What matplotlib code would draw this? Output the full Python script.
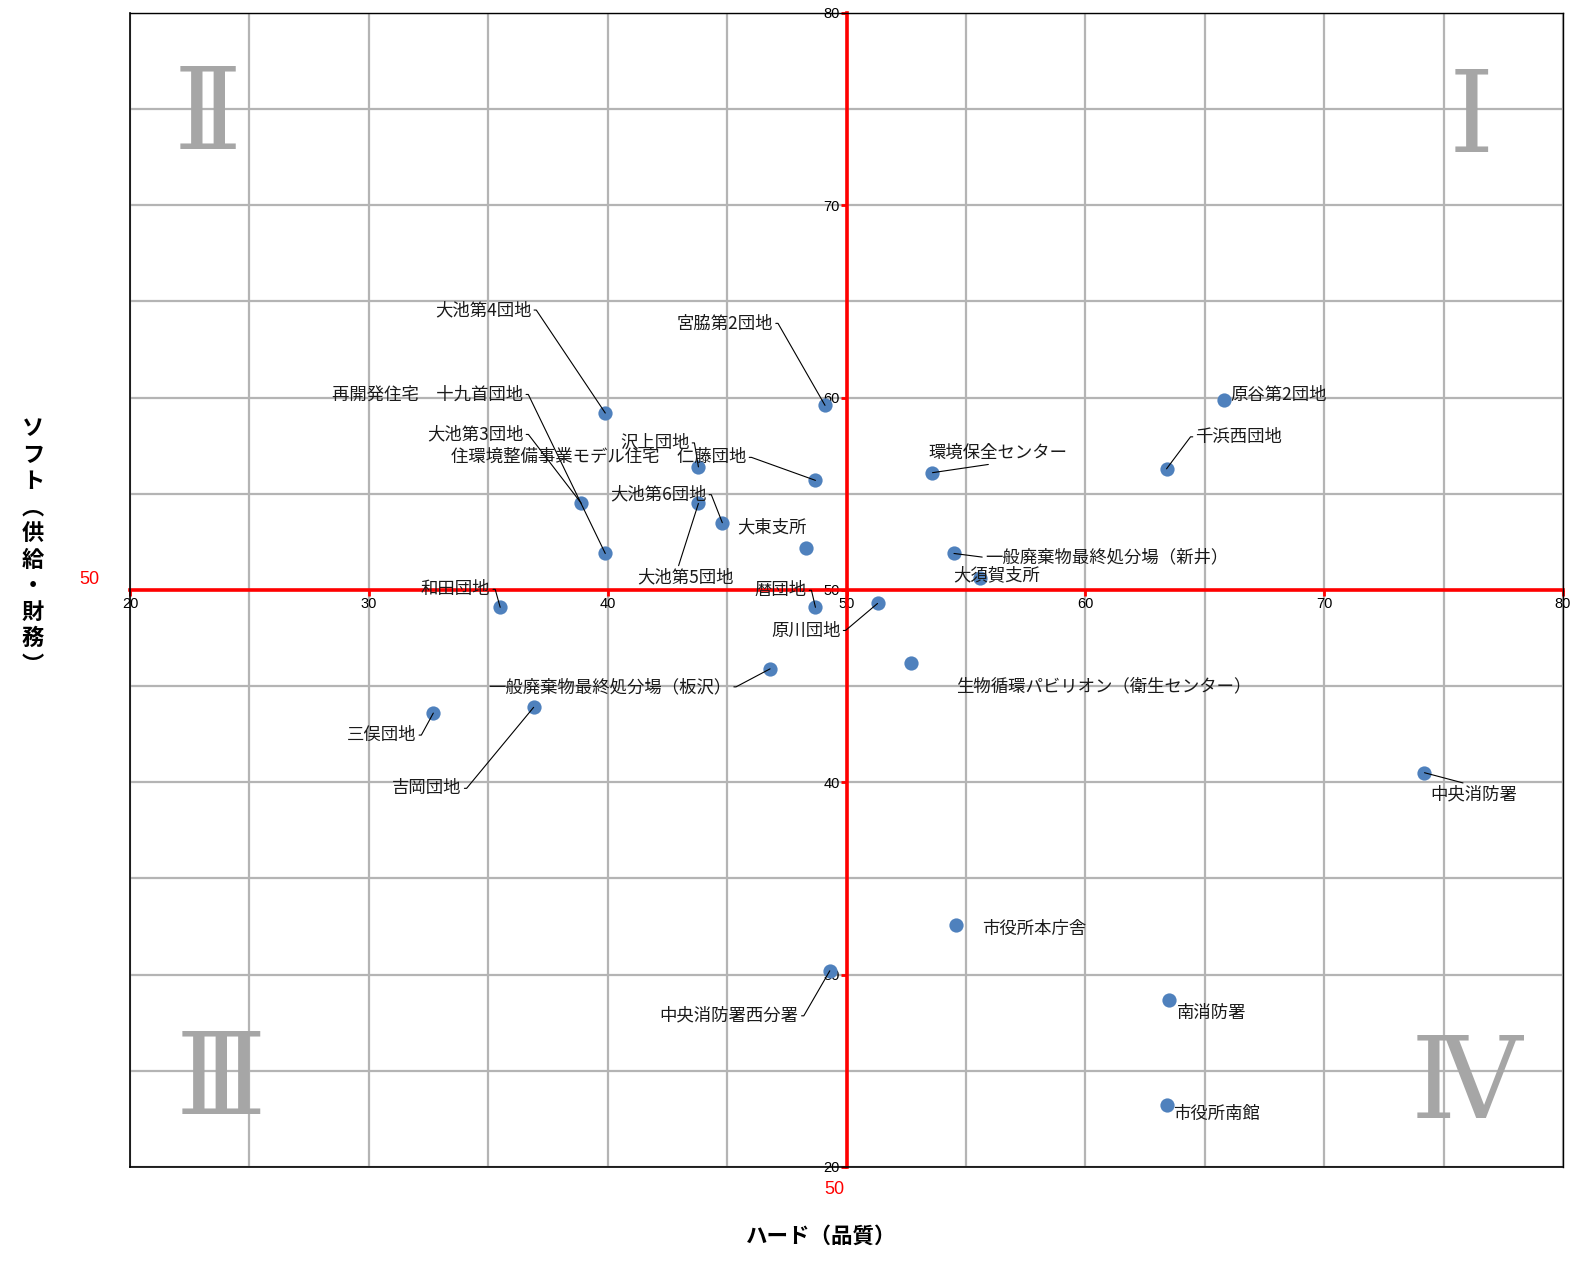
import matplotlib
matplotlib.use('Agg')
import matplotlib.pyplot as plt
from matplotlib.ticker import MultipleLocator

plt.rcParams['font.family'] = ['Noto Sans CJK JP', 'DejaVu Sans']

# ---------------- data ----------------
names = [
    "大池第4団地", "宮脇第2団地", "再開発住宅　十九首団地", "大池第3団地", "沢上団地",
    "住環境整備事業モデル住宅　仁藤団地", "大池第6団地", "大池第5団地", "大東支所", "和田団地",
    "暦団地", "原川団地", "環境保全センター", "一般廃棄物最終処分場（新井）", "大須賀支所",
    "原谷第2団地", "千浜西団地", "生物循環パビリオン（衛生センター）", "一般廃棄物最終処分場（板沢）", "三俣団地",
    "吉岡団地", "中央消防署", "市役所本庁舎", "中央消防署西分署", "南消防署",
    "市役所南館",
]
hard = [39.9, 49.1, 39.9, 38.9, 43.8,
        48.7, 44.8, 43.8, 48.3, 35.5,
        48.7, 51.3, 53.6, 54.5, 55.6,
        65.8, 63.4, 52.7, 46.8, 32.7,
        36.9, 74.2, 54.6, 49.3, 63.5,
        63.4]
soft = [59.2, 59.6, 51.9, 54.5, 56.4,
        55.7, 53.5, 54.5, 52.2, 49.1,
        49.1, 49.3, 56.1, 51.9, 50.6,
        59.9, 56.3, 46.2, 45.9, 43.6,
        43.9, 40.5, 32.6, 30.2, 28.7,
        23.2]
x_ticks = [20, 30, 40, 50, 60, 70, 80]
y_ticks = [20, 30, 40, 50, 60, 70, 80]
center_x = 50
center_y = 50
quadrants = ["Ⅰ", "Ⅱ", "Ⅲ", "Ⅳ"]

# ---------------- layout (label offsets in px, y up) ----------------
# (dx, dy, ha, leader)  leader: None / 'armR' / 'armL' / (relx, rely)
layout = [
    (-74, 103, 'right', 'armR'),
    (-52, 82, 'right', 'armR'),
    (-82, 159, 'right', 'armR'),
    (-58, 69, 'right', 'armR'),
    (-9, 24, 'right', 'armR'),
    (-69, 23, 'right', 'armR'),
    (-16, 28, 'right', 'armR'),
    (-13, -74, 'center', (0.42, 1.0)),
    (-69, 20, 'left', None),
    (-10, 18, 'right', 'armR'),
    (-9, 17, 'right', 'armR'),
    (-37, -27, 'right', 'armR'),
    (65, 20, 'center', (0.57, 0.0)),
    (31, -4, 'left', (0.0, 0.5)),
    (16, 3, 'center', None),
    (6, 5, 'left', None),
    (29, 32, 'left', 'armL'),
    (45, -23, 'left', None),
    (-39, -18, 'right', 'armR'),
    (-17, -22, 'right', 'armR'),
    (-72, -81, 'right', 'armR'),
    (49, -22, 'center', (0.5, 1.0)),
    (26, -4, 'left', None),
    (-31, -45, 'right', 'armR'),
    (8, -13, 'left', None),
    (7, -8, 'left', None),
]

DPI = 100
W, H = 1583, 1265
fig = plt.figure(figsize=(W / DPI, H / DPI), dpi=DPI)
ax = fig.add_axes([130 / W, 1 - 1167 / H, (1563 - 130) / W, (1167 - 13) / H])

ax.set_xlim(20, 80)
ax.set_ylim(20, 80)

# grid
ax.xaxis.set_major_locator(MultipleLocator(10))
ax.yaxis.set_major_locator(MultipleLocator(10))
ax.xaxis.set_minor_locator(MultipleLocator(5))
ax.yaxis.set_minor_locator(MultipleLocator(5))
ax.grid(True, which='both', color='#b4b4b4', lw=1.6, zorder=0)
ax.set_axisbelow(True)
ax.set_xticks(x_ticks)
ax.set_yticks(y_ticks)

# spines: red axes crossing at 50, black frame
ax.spines['left'].set_position(('data', center_x))
ax.spines['bottom'].set_position(('data', center_y))
for s in ('left', 'bottom'):
    ax.spines[s].set_color('red')
    ax.spines[s].set_linewidth(2.6)
    ax.spines[s].set_zorder(2)
for s in ('top', 'right'):
    ax.spines[s].set_color('black')
    ax.spines[s].set_linewidth(1.0)
ax.plot([0, 0], [0, 1], transform=ax.transAxes, color='black', lw=1.2, clip_on=False, zorder=5)
ax.plot([0, 1], [0, 0], transform=ax.transAxes, color='black', lw=1.2, clip_on=False, zorder=5)

ax.tick_params(which='major', direction='out', length=4, width=2, color='red',
               labelsize=10.5, pad=1)
ax.tick_params(which='minor', length=0)
for lab in ax.get_xticklabels() + ax.get_yticklabels():
    lab.set_fontfamily(['Liberation Sans', 'DejaVu Sans'])

# points
ax.scatter(hard, soft, s=105, color='#4f81bd', zorder=3, linewidths=0)

# labels
k = 72.0 / DPI
for name, x, y, (dx, dy, ha, leader) in zip(names, hard, soft, layout):
    arrow = None
    if leader == 'armR':
        arrow = dict(arrowstyle='-', color='black', lw=0.8, shrinkA=0, shrinkB=0,
                     relpos=(1.0, 0.5),
                     connectionstyle='arc,angleA=0,armA=5,angleB=0,armB=0,rad=0')
    elif leader == 'armL':
        arrow = dict(arrowstyle='-', color='black', lw=0.8, shrinkA=0, shrinkB=0,
                     relpos=(0.0, 0.5),
                     connectionstyle='arc,angleA=180,armA=5,angleB=0,armB=0,rad=0')
    elif isinstance(leader, tuple):
        arrow = dict(arrowstyle='-', color='black', lw=0.8, shrinkA=0, shrinkB=0,
                     relpos=leader)
    ax.annotate(name, xy=(x, y), xytext=(dx * k, dy * k), textcoords='offset points',
                ha=ha, va='center', fontsize=12.5, color='#1a1a1a',
                arrowprops=arrow, zorder=4)

# quadrant numerals (placed by baseline)
q_pos = [(76.15, 72.75), (23.25, 72.95), (23.8, 22.75), (75.95, 22.55)]
for q, (qx, qy) in zip(quadrants, q_pos):
    ax.text(qx, qy, q, ha='center', va='baseline', fontsize=83, color='#a6a6a6',
            family=['DejaVu Serif', 'DejaVu Sans'], fontweight='normal', zorder=1)

# axis titles and red center markers
fig.text(33 / W, 1 - 547 / H, "\n".join("ソフト︵供給・財務︶"), ha='center', va='center',
         fontsize=16, fontweight='bold', linespacing=1.18)
fig.text(821 / W, 1 - 1236 / H, "ハード（品質）", ha='center', va='center',
         fontsize=15.5, fontweight='bold')
fig.text(89 / W, 1 - 580 / H, str(center_y), ha='center', va='center', color='red',
         fontsize=13, family=['Liberation Sans'])
fig.text(834 / W, 1 - 1190 / H, str(center_x), ha='center', va='center', color='red',
         fontsize=13, family=['Liberation Sans'])

fig.savefig('out.png', dpi=DPI)
